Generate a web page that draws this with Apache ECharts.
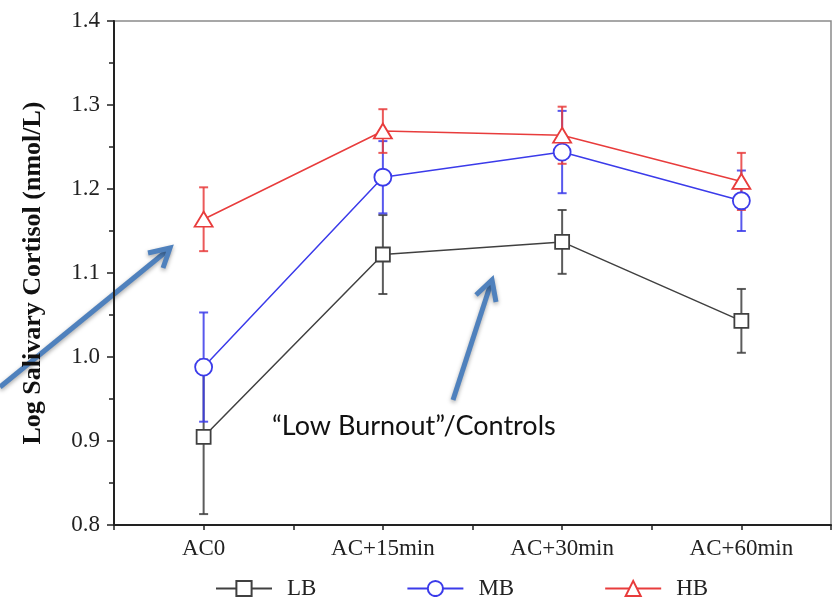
<!DOCTYPE html>
<html>
<head>
<meta charset="utf-8">
<script src="https://cdn.jsdelivr.net/npm/echarts@6/dist/echarts.min.js"></script>
<style>
  html, body { margin: 0; padding: 0; background: #ffffff; }
  #chart { width: 832px; height: 597px; }
</style>
</head>
<body>
<div id="chart"></div>
<script>
// time points
var categories = ['AC0', 'AC+15min', 'AC+30min', 'AC+60min'];

// group means (log nmol/L) and error bar half-lengths
var lbValues = [0.905, 1.122, 1.137, 1.043];
var lbErr = [0.092, 0.047, 0.038, 0.038];
var mbValues = [0.988, 1.214, 1.244, 1.186];
var mbErr = [0.065, 0.043, 0.049, 0.036];
var hbValues = [1.164, 1.269, 1.264, 1.209];
var hbErr = [0.038, 0.026, 0.034, 0.034];

var serifFont = '"Liberation Serif", "Times New Roman", serif';
var arrowBlue = '#4f81bd';

function errData(vals, errs) {
  return vals.map(function (v, i) { return [i, v - errs[i], v + errs[i]]; });
}

function errSeries(name, vals, errs, color) {
  return {
    name: name + ' err',
    type: 'custom',
    z: 1,
    silent: true,
    encode: { x: 0, y: [1, 2] },
    data: errData(vals, errs),
    renderItem: function (params, api) {
      var lo = api.coord([api.value(0), api.value(1)]);
      var hi = api.coord([api.value(0), api.value(2)]);
      var w = 4.5;
      var st = { stroke: color, lineWidth: 2, opacity: 0.85 };
      return {
        type: 'group',
        children: [
          { type: 'line', shape: { x1: lo[0], y1: lo[1], x2: hi[0], y2: hi[1] }, style: st },
          { type: 'line', shape: { x1: lo[0] - w, y1: lo[1], x2: lo[0] + w, y2: lo[1] }, style: st },
          { type: 'line', shape: { x1: hi[0] - w, y1: hi[1], x2: hi[0] + w, y2: hi[1] }, style: st }
        ]
      };
    }
  };
}

function lineSeries(name, vals, color, symbol, size) {
  return {
    name: name,
    type: 'line',
    z: 3,
    data: vals,
    symbol: symbol,
    symbolSize: size,
    showAllSymbol: true,
    lineStyle: { color: color, width: 1.5 },
    itemStyle: { color: '#ffffff', borderColor: color, borderWidth: 1.8 },
    emphasis: { disabled: true }
  };
}

var chart = echarts.init(document.getElementById('chart'));

var option = {
  animation: false,
  grid: {
    left: 114, top: 21, right: 1, bottom: 72,
    show: true, borderColor: '#8a8a8a', borderWidth: 1.5
  },
  legend: {
    left: 210,
    top: 572,
    itemWidth: 56,
    itemHeight: 19,
    itemGap: 90,
    data: ['LB', 'MB', 'HB'],
    textStyle: {
      fontFamily: serifFont, fontSize: 23, color: '#222',
      padding: [0, 0, 0, 10]
    }
  },
  xAxis: [
    {
      type: 'category',
      data: categories,
      boundaryGap: true,
      axisLine: { lineStyle: { color: '#222', width: 2 } },
      axisTick: { show: true, length: 5, lineStyle: { color: '#222', width: 1.5 } },
      axisLabel: { fontFamily: serifFont, fontSize: 23, color: '#222', margin: 12 },
      splitLine: { show: false }
    },
    {
      type: 'category',
      data: categories,
      position: 'bottom',
      boundaryGap: true,
      axisLine: { show: false },
      axisTick: { show: true, alignWithLabel: true, length: 5, lineStyle: { color: '#222', width: 1.5 } },
      axisLabel: { show: false },
      splitLine: { show: false }
    }
  ],
  yAxis: {
    type: 'value',
    min: 0.8,
    max: 1.4,
    interval: 0.1,
    name: 'Log Salivary Cortisol (nmol/L)',
    nameLocation: 'middle',
    nameGap: 68,
    nameTextStyle: { fontFamily: serifFont, fontSize: 26, fontWeight: 'bold', color: '#111' },
    axisLine: { show: true, lineStyle: { color: '#222', width: 2 } },
    axisTick: { show: true, length: 7, lineStyle: { color: '#222', width: 1.5 } },
    minorTick: { show: true, splitNumber: 2, length: 5, lineStyle: { color: '#222', width: 1.5 } },
    axisLabel: {
      fontFamily: serifFont, fontSize: 23, color: '#222', margin: 14,
      formatter: function (v) { return v.toFixed(1); }
    },
    splitLine: { show: false }
  },
  series: [
    errSeries('LB', lbValues, lbErr, '#404040'),
    lineSeries('LB', lbValues, '#404040', 'rect', 14),
    errSeries('MB', mbValues, mbErr, '#3b3bea'),
    lineSeries('MB', mbValues, '#3b3bea', 'circle', 17),
    errSeries('HB', hbValues, hbErr, '#e83c3c'),
    lineSeries('HB', hbValues, '#e83c3c', 'triangle', [18, 15])
  ],
  graphic: [
    // annotation arrows + label
    {
      type: 'group',
      z: 10,
      children: [
        {
          type: 'polyline',
          shape: { points: [[0, 387], [168, 250]] },
          style: { stroke: arrowBlue, lineWidth: 5, shadowBlur: 4, shadowColor: 'rgba(0,0,0,0.35)', shadowOffsetY: 2 }
        },
        {
          type: 'polyline',
          shape: { points: [[148, 253], [170, 248], [163, 268]] },
          style: { stroke: arrowBlue, fill: null, lineWidth: 5, lineJoin: 'miter', shadowBlur: 4, shadowColor: 'rgba(0,0,0,0.35)', shadowOffsetY: 2 }
        },
        {
          type: 'polyline',
          shape: { points: [[453, 400], [491, 283]] },
          style: { stroke: arrowBlue, lineWidth: 5, shadowBlur: 4, shadowColor: 'rgba(0,0,0,0.35)', shadowOffsetY: 2 }
        },
        {
          type: 'polyline',
          shape: { points: [[476, 295], [492, 280], [496, 302]] },
          style: { stroke: arrowBlue, fill: null, lineWidth: 5, lineJoin: 'miter', shadowBlur: 4, shadowColor: 'rgba(0,0,0,0.35)', shadowOffsetY: 2 }
        }
      ]
    },
    {
      type: 'text',
      left: 272,
      top: 413,
      z: 10,
      style: {
        text: '\u201cLow Burnout\u201d/Controls',
        fontFamily: 'Lato, "Open Sans", sans-serif',
        fontSize: 27,
        fill: '#111'
      }
    }
  ]
};

chart.setOption(option);
</script>
</body>
</html>
